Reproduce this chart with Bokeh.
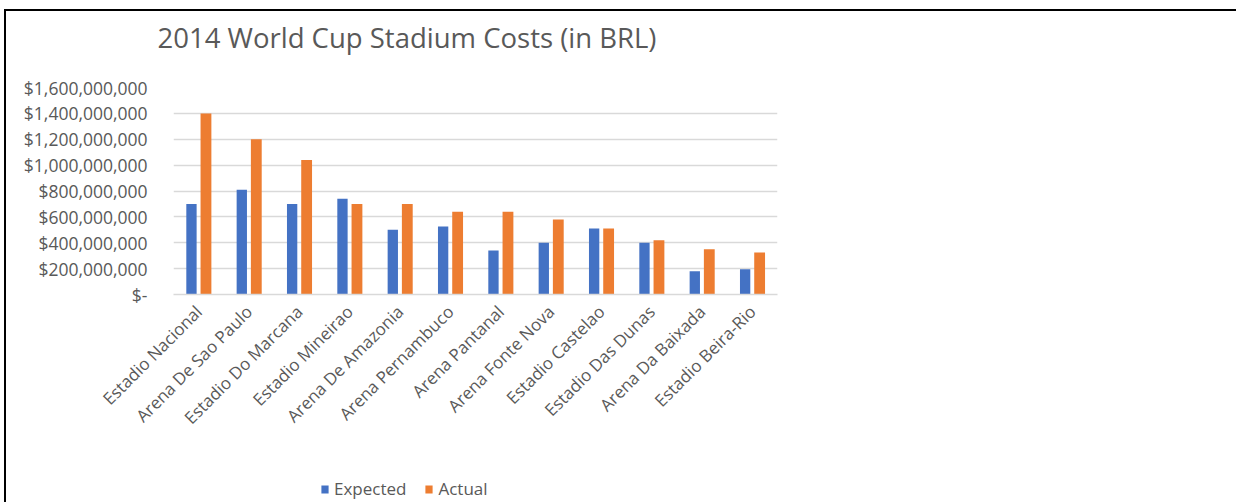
from math import pi
from bokeh.plotting import figure
from bokeh.layouts import column
from bokeh.models import (FactorRange, Range1d, ColumnDataSource, NumeralTickFormatter,
                          FixedTicker, Legend, LegendItem, InlineStyleSheet)
from bokeh.transform import dodge
from bokeh.embed import file_html
from bokeh.resources import INLINE

# ---- data (values in BRL) ----
stadiums = ["Estadio Nacional", "Arena De Sao Paulo", "Estadio Do Marcana", "Estadio Mineirao",
            "Arena De Amazonia", "Arena Pernambuco", "Arena Pantanal", "Arena Fonte Nova",
            "Estadio Castelao", "Estadio Das Dunas", "Arena Da Baixada", "Estadio Beira-Rio"]
expected = [700e6, 810e6, 700e6, 740e6, 500e6, 525e6, 340e6, 400e6, 510e6, 400e6, 180e6, 195e6]
actual = [1400e6, 1200e6, 1040e6, 700e6, 700e6, 640e6, 640e6, 580e6, 510e6, 420e6, 350e6, 325e6]
y_ticks = [0, 200e6, 400e6, 600e6, 800e6, 1000e6, 1200e6, 1400e6, 1600e6]
series_names = ["Expected", "Actual"]
title_text = "2014 World Cup Stadium Costs (in BRL)"

# ---- layout ----
W, H = 1236, 502
H_TOP = 74            # title strip
H_LEG = 42            # legend strip
H_MAIN = H - H_TOP - H_LEG
FL, FR, FT, FB = 173, 777, 87, 294   # plot frame edges in page pixels
FONT = "Open Sans"
TXT = "#595959"
BLUE, ORANGE = "#4472C4", "#ED7D31"


def left_border_css(top_line=False):
    extra = "top: 9px; border-top: 2px solid black;" if top_line else "top: 0px;"
    return InlineStyleSheet(css=""":host::after {
  content: ""; position: absolute; left: 4px; right: 0px; bottom: 0px; %s
  border-left: 2px solid black; pointer-events: none;
}""" % extra)


def blank_strip(height, **kw):
    f = figure(width=W, height=height, x_range=Range1d(0, 1), y_range=Range1d(0, 1),
               output_backend="svg", toolbar_location=None, **kw)
    f.axis.visible = False
    f.grid.grid_line_color = None
    f.outline_line_color = None
    f.background_fill_color = "white"
    f.border_fill_color = "white"
    return f


# ---- title strip ----
pt = blank_strip(H_TOP, min_border=0, title=title_text)
pt.title.text_font = FONT
pt.title.text_font_size = "27.5px"
pt.title.text_font_style = "normal"
pt.title.text_color = TXT
pt.title.align = "left"
pt.title.offset = -16
pt.title.standoff = 32
pt.stylesheets = [left_border_css(top_line=True)]

# ---- main chart ----
src = ColumnDataSource(dict(stadium=stadiums, expected=expected, actual=actual))

p = figure(width=W, height=H_MAIN, x_range=FactorRange(*stadiums, range_padding=0),
           y_range=Range1d(0, 1.6e9), output_backend="svg", toolbar_location=None,
           min_border_left=FL, min_border_right=W - FR, min_border_top=FT - H_TOP,
           min_border_bottom=H_MAIN - (FB - H_TOP))
p.outline_line_color = None
p.background_fill_color = "white"
p.border_fill_color = "white"
p.stylesheets = [left_border_css()]

r1 = p.vbar(x=dodge("stadium", -0.143, range=p.x_range), top="expected", width=0.205,
            source=src, fill_color=BLUE, line_color=None)
r2 = p.vbar(x=dodge("stadium", 0.145, range=p.x_range), top="actual", width=0.215,
            source=src, fill_color=ORANGE, line_color=None)

# y axis
p.yaxis.ticker = FixedTicker(ticks=y_ticks)
p.yaxis.formatter = NumeralTickFormatter(format="$0,0")
p.yaxis.major_label_overrides = {0: "$-"}
p.yaxis.axis_line_color = None
p.yaxis.major_tick_line_color = None
p.yaxis.minor_tick_line_color = None
p.yaxis.major_label_standoff = 20
p.yaxis.major_label_text_font = FONT
p.yaxis.major_label_text_font_size = "17.5px"
p.yaxis.major_label_text_color = TXT

# grid
p.xgrid.grid_line_color = None
p.ygrid.ticker = FixedTicker(ticks=y_ticks)
p.ygrid.grid_line_color = "#D9D9D9"
p.ygrid.grid_line_width = 1.3

# x axis
p.xaxis.axis_line_color = "#D9D9D9"
p.xaxis.axis_line_width = 1.3
p.xaxis.major_tick_line_color = None
p.xaxis.minor_tick_line_color = None
p.xaxis.major_label_orientation = pi / 4
p.xaxis.major_label_standoff = 8
p.xaxis.major_label_text_font = FONT
p.xaxis.major_label_text_font_size = "17px"
p.xaxis.major_label_text_color = TXT

# ---- legend strip ----
pl = blank_strip(H_LEG, min_border=0)
pl.x_range = Range1d(0, W)
pl.y_range = Range1d(0, H_LEG)
pl.stylesheets = [left_border_css()]
# legend swatches share the bar styles (their data lies outside this strip's ranges)
l1 = pl.vbar(x=[-100], top=[-100], width=1, fill_color=BLUE, line_color=None)
l2 = pl.vbar(x=[-100], top=[-100], width=1, fill_color=ORANGE, line_color=None)

legend = Legend(items=[LegendItem(label=series_names[0], renderers=[l1]),
                       LegendItem(label=series_names[1], renderers=[l2])],
                orientation="horizontal", location=(147, 2))
legend.glyph_width = 9
legend.glyph_height = 10
legend.label_standoff = 5
legend.spacing = 18
legend.padding = 0
legend.margin = 0
legend.border_line_color = None
legend.background_fill_alpha = 0
legend.label_text_font = FONT
legend.label_text_font_size = "17px"
legend.label_text_color = TXT
legend.label_height = 20
pl.add_layout(legend, "center")

open("out.html", "w").write(file_html(column(pt, p, pl, spacing=0), INLINE))
